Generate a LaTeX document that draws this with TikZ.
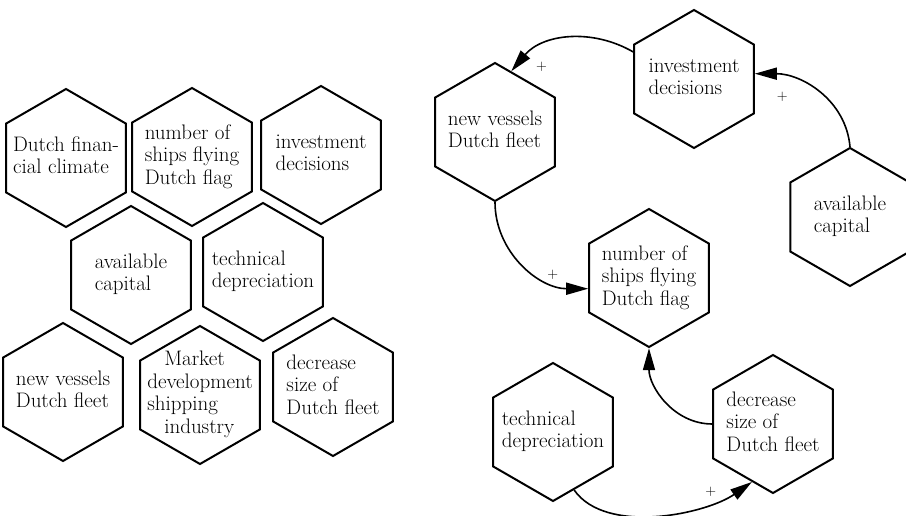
\documentclass[tikz,border=0pt]{standalone}
\usepackage{fontspec}
\usetikzlibrary{shapes.geometric,arrows.meta}

\tikzset{
  hex/.style={draw, line width=2pt, regular polygon, regular polygon sides=6,
    shape border rotate=30, minimum size=138pt, inner sep=0pt,
    font=\fontsize{21}{22.5}\selectfont},
  link/.style={line width=1.6pt, -{Triangle[length=22pt,width=12pt]}},
  sign/.style={font=\fontsize{15}{16}\selectfont, inner sep=2pt},
}
\newcommand{\hxtext}[1]{\smash{\makebox[0pt]{\raisebox{-0.25em}{\begin{tabular}{@{}l@{}}#1\end{tabular}}}}}

\begin{document}
\begin{tikzpicture}[x=1pt,y=1pt]
  \useasboundingbox (0,0) rectangle (906,515);

  % Left: the variables
  \node[hex] (fin) at (66,357) {\hxtext{Dutch finan-\\cial climate}};
  \node[hex] (num) at (192,358) {\hxtext{number of\\ships flying\\Dutch flag}};
  \node[hex] (inv) at (321,360) {\hxtext{investment\\decisions}};

  \node[hex] (cap) at (131,240) {\hxtext{available\\capital}};
  \node[hex] (tech) at (263,243) {\hxtext{technical\\depreciation}};

  \node[hex] (new) at (63,123) {\hxtext{new vessels\\Dutch fleet}};
  \node[hex] (mkt) at (200,120) {\hxtext{\hspace*{17pt}Market\\development\\shipping\\\hspace*{17pt}industry}};
  \node[hex] (dec) at (333,128) {\hxtext{decrease\\size of\\Dutch fleet}};

  % Right: the loop
  \node[hex] (rnew) at (495,383) {\hxtext{new vessels\\Dutch fleet}};
  \node[hex] (rinv) at (694,436) {\hxtext{investment\\decisions}};
  \node[hex] (rcap) at (850,298) {\hxtext{available\\capital}};
  \node[hex] (rnum) at (649,237) {\hxtext{number of\\ships flying\\Dutch flag}};
  \node[hex] (rtech) at (553,83) {\hxtext{technical\\depreciation}};
  \node[hex] (rdec) at (773,91) {\hxtext{decrease\\size of\\Dutch fleet}};

  % Draw the edges
  \draw[link] (rinv.156) to[out=150, in=50] node[sign, pos=0.85, below right=3pt, xshift=4pt] {+} (rnew.75);
  \draw[link] (rcap.north) to[out=95, in=0] node[sign, pos=0.8, below=12pt] {+} (rinv.5);
  \draw[link] (rnew.south) to[out=-90, in=180] node[sign, pos=0.75, above] {+} (rnum.190);
  \draw[link] (rdec.west) to[out=180, in=-90] node[sign, pos=0.8, left] {-} (rnum.south);
  \draw[link] (rtech.-70) to[out=-55, in=-145, looseness=0.8] node[sign, pos=0.8, above left] {+} (rdec.-110);
\end{tikzpicture}
\end{document}
